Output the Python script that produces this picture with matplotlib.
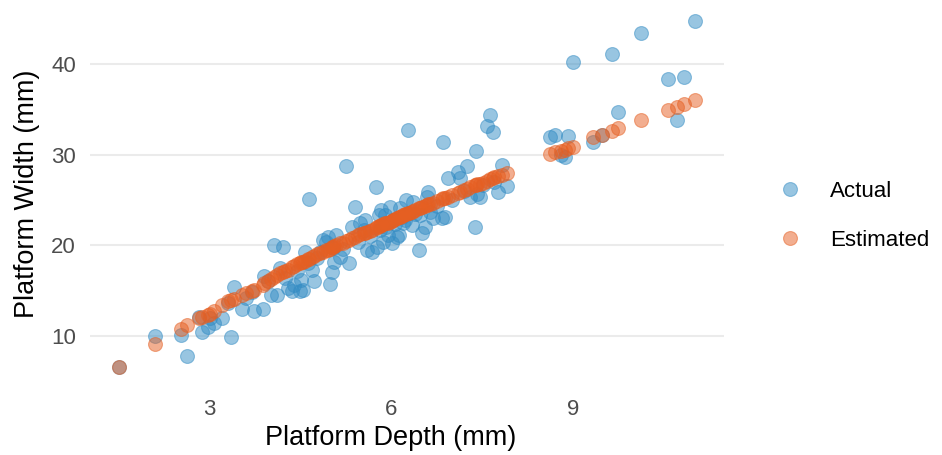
import matplotlib
matplotlib.use("Agg")
import matplotlib.pyplot as plt
from matplotlib.lines import Line2D

# Platform depth (mm) of each flake
depth = [1.50, 2.09, 2.52, 2.62, 2.83, 2.87, 2.97, 3.00, 3.08, 3.21, 3.36, 3.40, 3.53, 3.74,
         3.88, 3.90, 3.96, 4.02, 4.07, 4.12, 4.16, 4.21, 4.29, 4.36, 4.40, 4.49, 4.51, 4.54,
         4.57, 4.62, 4.64, 4.69, 4.72, 4.82, 4.87, 4.93, 4.95, 4.98, 5.02, 5.04, 5.06, 5.09,
         5.15, 5.26, 5.31, 5.35, 5.40, 5.48, 5.55, 5.57, 5.60, 5.68, 5.74, 5.77, 5.79, 5.81,
         5.83, 5.86, 5.89, 5.94, 5.98, 6.01, 6.03, 6.09, 6.13, 6.15, 6.17, 6.19, 6.25, 6.27,
         6.30, 6.34, 6.36, 6.46, 6.48, 6.50, 6.55, 6.59, 6.61, 6.64, 6.69, 6.84, 6.86, 6.88,
         6.93, 7.10, 7.13, 7.25, 7.30, 7.38, 7.40, 7.42, 7.46, 7.58, 7.63, 7.68, 7.76, 7.83,
         7.91, 8.62, 8.70, 8.80, 8.87, 8.92, 9.00, 9.33, 9.48, 9.64, 9.74, 10.12, 10.57, 10.72,
         10.83, 11.02,
         3.30, 3.60, 3.70, 4.25, 4.45, 4.78, 5.20, 5.45, 5.65, 5.92, 6.07, 6.22, 6.40, 6.75,
         7.00, 7.20, 7.52, 7.70]

# Actual platform width (mm)
actual = [6.6, 10.0, 10.1, 7.8, 12.1, 10.4, 11.0, 12.0, 11.4, 12.0, 9.9, 15.4, 13.0, 12.8,
          13.0, 16.6, 16.0, 14.5, 20.0, 14.5, 17.5, 19.8, 15.3, 14.9, 15.6, 14.9, 16.2, 15.1,
          19.3, 18.0, 25.1, 17.3, 16.0, 19.2, 20.6, 20.4, 20.9, 15.7, 17.1, 19.7, 18.2, 21.1,
          18.7, 28.7, 18.0, 22.0, 24.2, 22.5, 21.7, 22.8, 19.5, 19.3, 26.4, 19.8, 23.3, 21.7,
          23.9, 20.4, 23.3, 21.1, 24.2, 20.3, 22.8, 20.9, 21.1, 24.1, 23.1, 22.5, 25.0, 32.7,
          23.5, 22.2, 24.8, 19.5, 23.3, 21.4, 22.0, 25.3, 25.9, 23.7, 23.0, 23.0, 31.4, 23.1,
          27.4, 28.1, 27.4, 28.7, 25.3, 22.0, 30.4, 25.6, 25.3, 33.1, 34.4, 32.5, 25.9, 28.9,
          26.5, 31.9, 32.2, 30.0, 29.7, 32.1, 40.2, 31.4, 32.2, 41.1, 34.7, 43.4, 38.3, 33.8,
          38.6, 44.7,
          13.6, 14.2, 14.8, 16.4, 17.2, 18.6, 19.6, 20.4, 21.0, 22.0, 22.3, 22.8, 23.4, 24.3,
          25.0, 26.0, 26.6, 27.0]

# Estimated platform width (mm)
estimated = [6.6, 9.1, 10.8, 11.2, 12.0, 12.1, 12.3, 12.4, 12.8, 13.4, 14.0, 14.1, 14.5, 15.1,
             15.6, 15.8, 16.0, 16.3, 16.5, 16.7, 16.9, 17.0, 17.3, 17.6, 17.7, 18.0, 18.1, 18.2,
             18.3, 18.5, 18.5, 18.7, 18.8, 19.1, 19.2, 19.5, 19.5, 19.6, 19.8, 19.8, 19.9, 20.0,
             20.2, 20.5, 20.6, 20.8, 20.9, 21.2, 21.4, 21.4, 21.5, 21.7, 21.9, 22.0, 22.1, 22.1,
             22.2, 22.3, 22.4, 22.5, 22.6, 22.7, 22.8, 23.0, 23.1, 23.1, 23.2, 23.3, 23.4, 23.5,
             23.6, 23.7, 23.8, 24.1, 24.1, 24.2, 24.3, 24.4, 24.5, 24.6, 24.7, 25.1, 25.2, 25.2,
             25.3, 25.8, 25.9, 26.2, 26.4, 26.6, 26.6, 26.7, 26.8, 27.1, 27.3, 27.4, 27.6, 27.8,
             28.0, 30.1, 30.3, 30.4, 30.5, 30.7, 30.8, 31.9, 32.2, 32.6, 32.9, 33.8, 34.9, 35.3,
             35.6, 36.0,
             13.8, 14.7, 14.9, 17.2, 17.9, 19.0, 20.3, 21.1, 21.6, 22.5, 22.9, 23.4, 23.9, 24.9,
             25.5, 26.1, 26.9, 27.5]

series_labels = ["Actual", "Estimated"]
x_ticks = [3, 6, 9]
y_ticks = [10, 20, 30, 40]

BLUE = "#338cc4"
ORANGE = "#e65f22"
ALPHA = 0.5

plt.rcParams["font.family"] = ["Liberation Sans", "DejaVu Sans"]

fig = plt.figure(figsize=(9.42, 4.55), dpi=100)
ax = fig.add_axes([90 / 942, (455 - 384) / 455, (724 - 90) / 942, (384 - 4) / 455])

ax.scatter(depth, actual, s=100, facecolor=BLUE, edgecolor=BLUE, linewidths=0.8,
           alpha=ALPHA, zorder=3)
ax.scatter(depth, estimated, s=100, facecolor=ORANGE, edgecolor=ORANGE, linewidths=0.8,
           alpha=ALPHA, zorder=4)

ax.margins(x=0.05, y=0.05)
ax.set_xticks(x_ticks)
ax.set_yticks(y_ticks)
ax.grid(axis="y", color="#ebebeb", linewidth=1.5, zorder=0)
ax.grid(axis="x", visible=False)
ax.set_axisbelow(True)
for sp in ax.spines.values():
    sp.set_visible(False)
ax.tick_params(axis="both", length=0, labelsize=16, labelcolor="#4d4d4d")
ax.tick_params(axis="x", pad=11)
ax.tick_params(axis="y", pad=10)

ax.set_xlabel("Platform Depth (mm)", fontsize=19.5, color="black")
ax.xaxis.set_label_coords((391 - 90) / 634, -54 / 380, transform=ax.transAxes)
ax.xaxis.label.set_va("center")
ax.set_ylabel("Platform Width (mm)", fontsize=19.5, color="black", labelpad=8)

handles = [
    Line2D([], [], linestyle="none", marker="o", markersize=10, markerfacecolor=BLUE,
           markeredgecolor=BLUE, markeredgewidth=0.8, alpha=ALPHA),
    Line2D([], [], linestyle="none", marker="o", markersize=10, markerfacecolor=ORANGE,
           markeredgecolor=ORANGE, markeredgewidth=0.8, alpha=ALPHA),
]
fig.legend(handles, series_labels, loc="center left",
           bbox_to_anchor=(768 / 942, 1 - 216 / 455), frameon=False,
           fontsize=16, labelspacing=1.25, handletextpad=1.2, handlelength=1.2,
           borderaxespad=0)

fig.savefig("out.png", dpi=100)
